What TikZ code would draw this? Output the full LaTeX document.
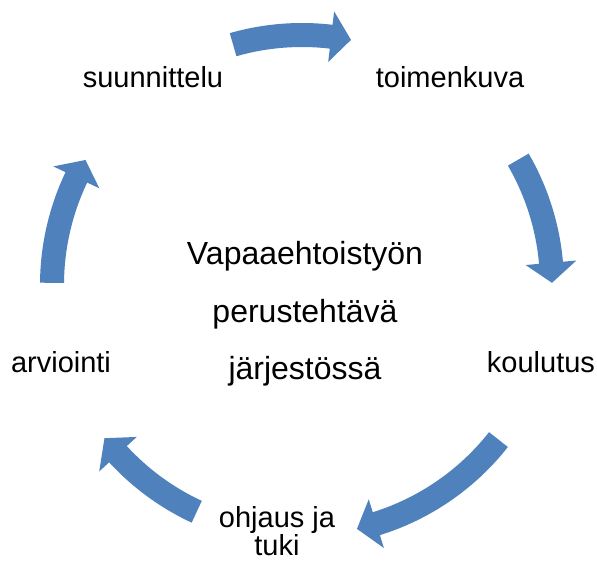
\documentclass[tikz,border=0pt]{standalone}
\usepackage{fontspec}
\setmainfont{Liberation Sans}
\definecolor{cycleblue}{HTML}{4F81BD}

\begin{document}
\begin{tikzpicture}[x=1pt, y=1pt,
    stage/.style={font=\fontsize{29}{27}\selectfont, align=center, inner sep=0pt},
    centre/.style={font=\fontsize{32}{57.5}\selectfont, align=center, inner sep=0pt},
    cyclearrow/.style={fill=cycleblue, draw=none}]
    \useasboundingbox (-302,-276) rectangle (295,285);

    \node[stage, anchor=base] (suunnittelu) at (-149,197) {suunnittelu};
    \node[stage, anchor=base] (toimenkuva) at (148,197) {toimenkuva};
    \node[stage, anchor=base] (koulutus) at (239,-88) {koulutus};
    \node[stage, anchor=base, text depth=0pt] (ohjaus) at (-25,-271) {ohjaus ja\\tuki};
    \node[stage, anchor=base] (arviointi) at (-241,-88) {arviointi};

    \node[centre, anchor=base] (perustehtava) at (3,-95) {Vapaaehtoistyön\\perustehtävä\\järjestössä};

    % arrows round the circle, clockwise
    \fill[cyclearrow] (106:262pt) arc[start angle=106, end angle=83.3, radius=262pt] -- (83.3:275.5pt) -- (78.7:250pt) -- (83.3:224.5pt) -- (83.3:238pt) arc[start angle=83.3, end angle=106, radius=238pt] -- cycle;
    \fill[cyclearrow] (30.1:262pt) arc[start angle=30.1, end angle=5.1, radius=262pt] -- (5.1:275.5pt) -- (0.5:250pt) -- (5.1:224.5pt) -- (5.1:238pt) arc[start angle=5.1, end angle=30.1, radius=238pt] -- cycle;
    \fill[cyclearrow] (-38.2:262pt) arc[start angle=-38.2, end angle=-72.7, radius=262pt] -- (-72.7:275.5pt) -- (-77.3:250pt) -- (-72.7:224.5pt) -- (-72.7:238pt) arc[start angle=-72.7, end angle=-38.2, radius=238pt] -- cycle;
    \fill[cyclearrow] (-114.9:262pt) arc[start angle=-114.9, end angle=-137.4, radius=262pt] -- (-137.4:275.5pt) -- (-142.2:250pt) -- (-137.4:224.5pt) -- (-137.4:238pt) arc[start angle=-137.4, end angle=-114.9, radius=238pt] -- cycle;
    \fill[cyclearrow] (179.5:262pt) arc[start angle=179.5, end angle=154.5, radius=262pt] -- (154.5:275.5pt) -- (150.0:250pt) -- (154.5:224.5pt) -- (154.5:238pt) arc[start angle=154.5, end angle=179.5, radius=238pt] -- cycle;
\end{tikzpicture}
\end{document}
